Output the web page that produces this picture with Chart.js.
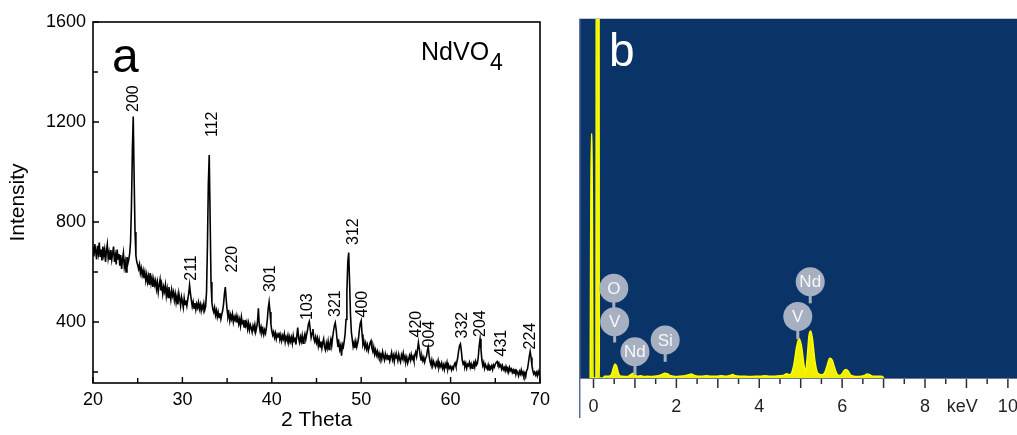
<!DOCTYPE html>
<html>
<head>
<meta charset="utf-8">
<title>NdVO4 XRD / EDS</title>
<script src="https://cdn.jsdelivr.net/npm/chart.js@4.4.1/dist/chart.umd.min.js"></script>
<style>
  html, body { margin: 0; padding: 0; background: #fff; overflow: hidden; }
  #wrap { position: relative; width: 1017px; height: 435px; }
  #panelA { position: absolute; left: 0; top: 0; }
  #panelB { position: absolute; left: 579px; top: 0; }
</style>
</head>
<body>
<div id="wrap">
  <canvas id="panelA" width="579" height="435"></canvas>
  <canvas id="panelB" width="438" height="435"></canvas>
</div>
<script>
'use strict';

/* ============================================================
   DATA – panel a (XRD, 2 theta 20..70 in 0.1 steps)
   ============================================================ */
var thetaStart = 20;
var thetaStep  = 0.1;
var xrdCounts = [
  /* 20 */ 700, 662, 712, 684, 650, 705, 676, 718, 660, 690,
  /* 21 */ 646, 702, 668, 690, 640, 684, 710, 655, 678, 648,
  /* 22 */ 688, 650, 676, 702, 640, 666, 630, 690, 652, 672,
  /* 23 */ 625, 668, 612, 650, 676, 620, 642, 600, 660, 634,
  /* 24 */ 650, 672, 720, 860, 1080, 1222, 980, 760, 665, 640,
  /* 25 */ 628, 612, 630, 596, 615, 588, 606, 575, 598, 566,
  /* 26 */ 590, 560, 582, 548, 596, 555, 575, 540, 570, 548,
  /* 27 */ 565, 532, 558, 520, 548, 570, 526, 545, 512, 540,
  /* 28 */ 522, 548, 505, 532, 498, 540, 515, 490, 528, 505,
  /* 29 */ 520, 488, 512, 478, 502, 470, 515, 492, 465, 500,
  /* 30 */ 482, 458, 495, 470, 486, 465, 490, 512, 548, 515,
  /* 31 */ 488, 462, 480, 455, 476, 450, 472, 458, 478, 452,
  /* 32 */ 470, 445, 466, 452, 474, 448, 462, 520, 700, 950,
  /* 33 */ 1068, 820, 560, 478, 452, 440, 458, 428, 446, 420,
  /* 34 */ 440, 418, 436, 412, 430, 445, 470, 512, 540, 490,
  /* 35 */ 448, 420, 435, 405, 428, 412, 432, 400, 420, 408,
  /* 36 */ 425, 398, 418, 392, 410, 385, 420, 395, 402, 380,
  /* 37 */ 408, 386, 400, 372, 395, 368, 388, 376, 360, 385,
  /* 38 */ 372, 390, 360, 378, 400, 455, 385, 362, 380, 358,
  /* 39 */ 372, 350, 368, 355, 378, 410, 455, 480, 440, 392,
  /* 40 */ 365, 348, 360, 338, 355, 332, 350, 340, 358, 330,
  /* 41 */ 348, 325, 345, 332, 352, 320, 340, 328, 346, 318,
  /* 42 */ 340, 322, 338, 315, 345, 325, 332, 310, 345, 378,
  /* 43 */ 335, 318, 340, 322, 345, 315, 338, 352, 330, 350,
  /* 44 */ 368, 392, 402, 370, 338, 355, 372, 335, 322, 340,
  /* 45 */ 318, 335, 305, 328, 300, 322, 295, 318, 332, 300,
  /* 46 */ 288, 315, 296, 322, 290, 312, 330, 305, 338, 362,
  /* 47 */ 385, 397, 370, 330, 300, 318, 290, 305, 265, 310,
  /* 48 */ 300, 322, 352, 410, 520, 640, 678, 560, 430, 360,
  /* 49 */ 330, 302, 318, 296, 322, 300, 315, 335, 370, 395,
  /* 50 */ 405, 350, 310, 322, 298, 315, 292, 308, 285, 300,
  /* 51 */ 318, 325, 295, 282, 300, 272, 288, 268, 282, 260,
  /* 52 */ 275, 258, 270, 252, 280, 262, 248, 272, 255, 266,
  /* 53 */ 250, 268, 245, 262, 278, 250, 265, 242, 270, 256,
  /* 54 */ 262, 245, 270, 252, 240, 268, 255, 275, 248, 262,
  /* 55 */ 242, 258, 236, 250, 265, 248, 270, 252, 262, 245,
  /* 56 */ 268, 280, 262, 290, 318, 292, 265, 248, 262, 245,
  /* 57 */ 258, 240, 255, 262, 285, 300, 265, 242, 230, 248,
  /* 58 */ 225, 242, 230, 220, 238, 226, 245, 218, 232, 222,
  /* 59 */ 236, 215, 228, 210, 232, 220, 238, 212, 226, 215,
  /* 60 */ 222, 208, 220, 212, 228, 236, 222, 240, 258, 285,
  /* 61 */ 305, 312, 285, 248, 232, 240, 222, 235, 215, 230,
  /* 62 */ 225, 238, 218, 232, 215, 228, 238, 220, 242, 228,
  /* 63 */ 235, 262, 305, 332, 290, 248, 226, 238, 215, 230,
  /* 64 */ 220, 212, 228, 208, 222, 215, 225, 210, 228, 220,
  /* 65 */ 232, 238, 242, 230, 236, 222, 228, 212, 225, 210,
  /* 66 */ 218, 205, 222, 210, 215, 200, 218, 206, 212, 198,
  /* 67 */ 208, 195, 212, 190, 205, 198, 185, 202, 192, 208,
  /* 68 */ 190, 200, 185, 196, 182, 205, 212, 235, 262, 282,
  /* 69 */ 258, 225, 205, 192, 200, 188, 198, 185, 202, 190,
  /* 70 */ 205
];

/* reflection labels: text, 2theta of label centre, intensity where text starts */
var hklLabels = ['200', '211', '112', '220', '301', '103', '321', '312', '400', '420', '004', '332', '204', '431', '224'];
var hklTheta  = [24.5, 31.05, 33.4, 35.6, 39.9, 44.0, 47.15, 49.2, 50.1, 56.25, 57.65, 61.35, 63.3, 65.7, 69.0];
var hklBase   = [1240, 565, 1140, 598, 520, 408, 420, 708, 418, 338, 298, 334, 340, 262, 290];

var xrdXTicks      = [20, 30, 40, 50, 60, 70];
var xrdXMinorTicks = [25, 35, 45, 55, 65];
var xrdYTicks      = [400, 800, 1200, 1600];
var xrdYMinorTicks = [200, 600, 1000, 1400];

/* ============================================================
   DATA – panel b (EDS spectrum)
   ============================================================ */
var edsKeV = [-0.08, -0.055, -0.035, -0.01, 0.06, 0.075, 0.125, 0.14, 0.24, 0.26, 0.34,
              0.40, 0.44, 0.48, 0.52, 0.56, 0.60, 0.64, 0.70, 0.78, 0.86,
              0.92, 0.96, 1.00, 1.06, 1.14, 1.22, 1.30, 1.40, 1.48, 1.56,
              1.64, 1.72, 1.78, 1.84, 1.92, 2.00, 2.10, 2.20, 2.30, 2.36,
              2.42, 2.52, 2.62, 2.72, 2.84, 2.96, 3.08, 3.20, 3.30, 3.36,
              3.42, 3.54, 3.66, 3.78, 3.90, 4.02, 4.14, 4.26, 4.38, 4.50,
              4.60, 4.66, 4.72, 4.78, 4.84, 4.90, 4.96, 5.02, 5.08, 5.12,
              5.16, 5.20, 5.24, 5.28, 5.34, 5.40, 5.46, 5.52, 5.58, 5.64,
              5.70, 5.76, 5.82, 5.88, 5.94, 6.00, 6.06, 6.10, 6.14, 6.20,
              6.28, 6.36, 6.46, 6.54, 6.60, 6.66, 6.74, 6.84, 6.94, 6.98, 7.00];
var edsCounts = [0, 680, 680, 0, 0, 3000, 3000, 0, 0, 5, 5,
                 6, 12, 28, 39, 32, 14, 6, 5, 4, 6,
                 11, 13, 9, 5, 6, 4, 5, 4, 5, 6,
                 9, 13, 12, 7, 5, 4, 5, 6, 9, 11,
                 8, 5, 5, 6, 5, 5, 6, 5, 7, 10,
                 6, 5, 5, 4, 5, 5, 6, 5, 5, 6,
                 8, 12, 9, 14, 40, 85, 110, 88, 35, 20,
                 60, 118, 131, 112, 50, 16, 10, 9, 15, 35,
                 55, 50, 28, 10, 7, 12, 22, 24, 20, 9,
                 5, 4, 5, 7, 11, 9, 5, 5, 5, 4, 0];

/* element markers: symbol, keV and height of circle centre, height where stem ends */
var elemLabels = ['O', 'V', 'Nd', 'Si', 'Nd', 'V'];
var elemKeV    = [0.49, 0.51, 1.00, 1.73, 5.23, 4.93];
var elemY      = [250, 157, 73, 106, 268, 171];
var elemStem   = [157, 99, 8, 45, 208, 108];

var edsXTicks  = [0, 2, 4, 6, 8, 10];
var kevLabelAt = 8.9;
var edsTickMarks = [0, 0.5, 1, 1.5, 2, 2.5, 3, 3.5, 4, 4.5, 5, 5.5, 6, 6.5, 7, 7.5, 8, 8.5, 9, 9.5, 10];

var FONT = "'Liberation Sans', Arial, sans-serif";

/* ============================================================
   PANEL A – frame, inward ticks, hkl labels, captions
   ============================================================ */
var xrdDecor = {
  id: 'xrdDecor',
  afterDatasetsDraw: function (chart) {
    var ctx = chart.ctx, a = chart.chartArea;
    var xs = chart.scales.x, ys = chart.scales.y;

    ctx.save();
    ctx.fillStyle = '#000';
    ctx.font = '16px ' + FONT;
    ctx.textAlign = 'left';
    ctx.textBaseline = 'middle';
    hklLabels.forEach(function (t, i) {
      ctx.save();
      ctx.translate(xs.getPixelForValue(hklTheta[i]), ys.getPixelForValue(hklBase[i]));
      ctx.rotate(-Math.PI / 2);
      ctx.fillText(t, 0, 0);
      ctx.restore();
    });

    ctx.textBaseline = 'alphabetic';
    ctx.font = '48px ' + FONT;
    ctx.fillText('a', 112, 72);
    ctx.font = '25px ' + FONT;
    ctx.fillText('NdVO', 421, 60);
    var w = ctx.measureText('NdVO').width;
    ctx.font = '23px ' + FONT;
    ctx.fillText('4', 421 + w + 1, 70);

    /* frame */
    ctx.strokeStyle = '#000';
    ctx.lineWidth = 1.6;
    ctx.strokeRect(a.left, a.top, a.right - a.left, a.bottom - a.top);

    /* inward ticks on bottom and left */
    ctx.lineWidth = 1.4;
    ctx.beginPath();
    xrdXTicks.forEach(function (v) {
      var p = xs.getPixelForValue(v);
      ctx.moveTo(p, a.bottom); ctx.lineTo(p, a.bottom - 6);
    });
    xrdXMinorTicks.forEach(function (v) {
      var p = xs.getPixelForValue(v);
      ctx.moveTo(p, a.bottom); ctx.lineTo(p, a.bottom - 5);
    });
    xrdYTicks.forEach(function (v) {
      var p = ys.getPixelForValue(v);
      ctx.moveTo(a.left, p); ctx.lineTo(a.left + 6, p);
    });
    xrdYMinorTicks.forEach(function (v) {
      var p = ys.getPixelForValue(v);
      ctx.moveTo(a.left, p); ctx.lineTo(a.left + 5, p);
    });
    ctx.stroke();
    ctx.restore();
  }
};

/* ============================================================
   PANEL B – navy field, tick marks, element markers
   ============================================================ */
var edsDecor = {
  id: 'edsDecor',
  beforeDatasetsDraw: function (chart) {
    var ctx = chart.ctx, a = chart.chartArea;
    ctx.save();
    ctx.fillStyle = '#0a3467';
    ctx.fillRect(a.left, a.top, a.right - a.left, a.bottom - a.top);
    ctx.restore();
  },
  afterDatasetsDraw: function (chart) {
    var ctx = chart.ctx, a = chart.chartArea;
    var xs = chart.scales.x, ys = chart.scales.y;
    var grey = '#a6b0c1';

    ctx.save();
    /* stems first, circles on top */
    ctx.strokeStyle = grey;
    ctx.lineWidth = 3;
    elemLabels.forEach(function (t, i) {
      var px = xs.getPixelForValue(elemKeV[i]);
      ctx.beginPath();
      ctx.moveTo(px, ys.getPixelForValue(elemY[i]));
      ctx.lineTo(px, ys.getPixelForValue(elemStem[i]));
      ctx.stroke();
    });
    elemLabels.forEach(function (t, i) {
      var px = xs.getPixelForValue(elemKeV[i]);
      var py = ys.getPixelForValue(elemY[i]);
      ctx.fillStyle = grey;
      ctx.beginPath();
      ctx.arc(px, py, 14.5, 0, Math.PI * 2);
      ctx.fill();
      ctx.fillStyle = '#f6f8fb';
      ctx.font = '17px ' + FONT;
      ctx.textAlign = 'center';
      ctx.textBaseline = 'middle';
      ctx.fillText(t, px, py + 1);
    });

    ctx.fillStyle = '#ffffff';
    ctx.font = '46px ' + FONT;
    ctx.textAlign = 'left';
    ctx.textBaseline = 'alphabetic';
    ctx.fillText('b', a.left + 30, 66);
    ctx.restore();
  },
  afterDraw: function (chart) {
    var ctx = chart.ctx, a = chart.chartArea;
    var xs = chart.scales.x;
    ctx.save();
    /* top edge */
    ctx.strokeStyle = '#c3cad5';
    ctx.lineWidth = 1;
    ctx.beginPath();
    ctx.moveTo(a.left, a.top - 0.5); ctx.lineTo(a.right, a.top - 0.5);
    ctx.stroke();
    /* axis line */
    ctx.strokeStyle = '#6d7890';
    ctx.beginPath();
    ctx.moveTo(a.left, a.bottom + 0.5); ctx.lineTo(a.right, a.bottom + 0.5);
    ctx.stroke();
    /* left edge down past the labels */
    ctx.strokeStyle = '#5a6f99';
    ctx.lineWidth = 1.5;
    ctx.beginPath();
    ctx.moveTo(a.left + 0.75, a.top); ctx.lineTo(a.left + 0.75, a.bottom + 40);
    ctx.stroke();
    /* tick marks below the axis */
    ctx.strokeStyle = '#2b2f3a';
    ctx.lineWidth = 1.5;
    ctx.beginPath();
    edsTickMarks.forEach(function (v) {
      var p = xs.getPixelForValue(v);
      var len = (v % 1 === 0) ? 9 : 5;
      ctx.moveTo(p, a.bottom + 1); ctx.lineTo(p, a.bottom + 1 + len);
    });
    ctx.stroke();
    ctx.restore();
  }
};

/* ============================================================
   INIT
   ============================================================ */
function initXrd() {
  var pts = xrdCounts.map(function (v, i) {
    return { x: +(thetaStart + i * thetaStep).toFixed(1), y: v };
  });

  new Chart(document.getElementById('panelA'), {
    type: 'line',
    data: {
      datasets: [{
        data       : pts,
        borderColor: '#000',
        borderWidth: 1.6,
        pointRadius: 0,
        tension    : 0,
        fill       : false
      }]
    },
    options: {
      responsive      : false,
      animation       : false,
      devicePixelRatio: 1,
      layout : { padding: { top: 22, right: 39, left: 0, bottom: 0 } },
      plugins: { legend: { display: false }, tooltip: { enabled: false } },
      scales : {
        x: {
          type: 'linear', min: 20, max: 70,
          afterBuildTicks: function (s) { s.ticks = xrdXTicks.map(function (v) { return { value: v }; }); },
          afterFit: function (s) { s.height = 52; s.paddingLeft = 0; s.paddingRight = 0; },
          grid  : { display: false, drawTicks: false },
          border: { display: false },
          ticks : { color: '#000', font: { family: FONT, size: 18 }, padding: 6, maxRotation: 0, autoSkip: false,
                    callback: function (v) { return String(v); } },
          title : { display: true, text: '2 Theta', color: '#000', font: { family: FONT, size: 21 },
                    padding: { top: 0, bottom: 2 } }
        },
        y: {
          min: 156, max: 1600,
          afterBuildTicks: function (s) { s.ticks = xrdYTicks.map(function (v) { return { value: v }; }); },
          afterFit: function (s) { s.width = 93; s.paddingTop = 0; s.paddingBottom = 0; },
          grid  : { display: false, drawTicks: false },
          border: { display: false },
          ticks : { color: '#000', font: { family: FONT, size: 18 }, padding: 7, autoSkip: false,
                    callback: function (v) { return String(v); } },
          title : { display: true, text: 'Intensity', color: '#000', font: { family: FONT, size: 21 },
                    padding: { top: 6, bottom: 0 } }
        }
      }
    },
    plugins: [xrdDecor]
  });
}

function initEds() {
  var pts = edsKeV.map(function (k, i) { return { x: k, y: edsCounts[i] }; });

  new Chart(document.getElementById('panelB'), {
    type: 'line',
    data: {
      datasets: [{
        data                  : pts,
        borderColor           : '#ffff00',
        borderWidth           : 1.5,
        backgroundColor       : '#f0f000',
        pointRadius           : 0,
        fill                  : 'origin',
        cubicInterpolationMode: 'monotone'
      }]
    },
    options: {
      responsive      : false,
      animation       : false,
      devicePixelRatio: 1,
      layout : { padding: { top: 19, right: 0, left: 0, bottom: 0 } },
      plugins: { legend: { display: false }, tooltip: { enabled: false } },
      scales : {
        x: {
          type: 'linear', min: -0.35, max: 10.22,
          afterBuildTicks: function (s) {
            s.ticks = edsXTicks.concat([kevLabelAt]).sort(function (p, q) { return p - q; })
              .map(function (v) { return { value: v }; });
          },
          afterFit: function (s) { s.height = 57; s.paddingLeft = 0; s.paddingRight = 0; },
          grid  : { display: false, drawTicks: false },
          border: { display: false },
          ticks : { color: '#1e2026', font: { family: FONT, size: 18 }, padding: 18, maxRotation: 0, autoSkip: false,
                    callback: function (v) { return v === kevLabelAt ? 'keV' : String(v); } }
        },
        y: { display: false, min: 0, max: 1000 }
      }
    },
    plugins: [edsDecor]
  });
}

document.addEventListener('DOMContentLoaded', function () {
  initXrd();
  initEds();
});
</script>
</body>
</html>
